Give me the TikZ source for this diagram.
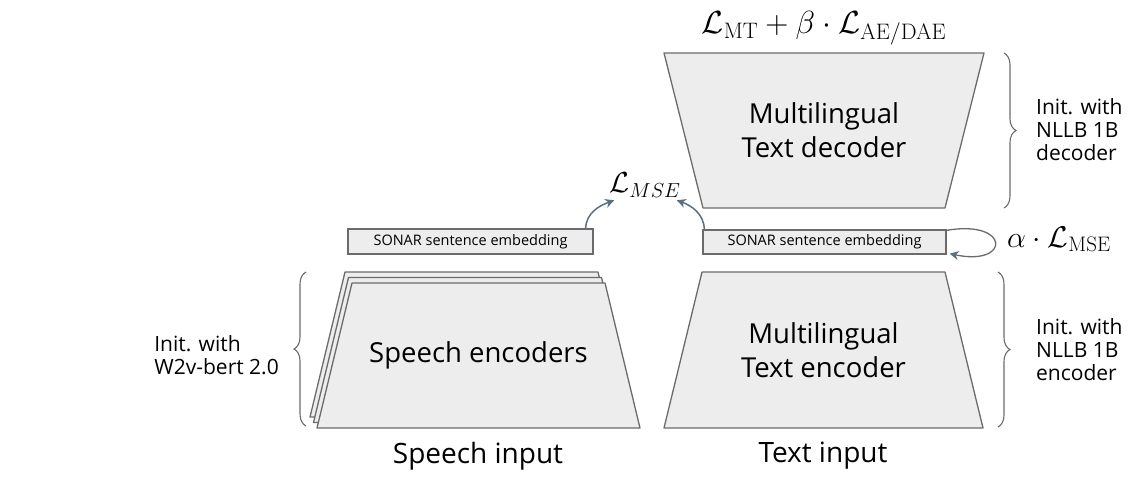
\RequirePackage{fix-cm}
\documentclass[tikz,border=0pt]{standalone}
\usepackage[no-math]{fontspec}
\usepackage{amsmath}
\usepackage{tikz}
\usetikzlibrary{arrows.meta,positioning,shapes.geometric,decorations.pathreplacing}
\newfontfamily\uifont{Open Sans}
\definecolor{sgray}{HTML}{EDEDED}
\definecolor{sedge}{HTML}{6B6B6B}
\definecolor{sslate}{HTML}{5A6F82}
% centre x, centre y, top width, bottom width, height
\newcommand{\trapblock}[5]{%
    \draw[blockline] (#1-#3/2,#2-#5/2) -- (#1+#3/2,#2-#5/2) -- (#1+#4/2,#2+#5/2) -- (#1-#4/2,#2+#5/2) -- cycle;}

\begin{document}
\begin{tikzpicture}[x=1pt, y=-1pt,
    blockline/.style={draw=sedge, fill=sgray, line width=1.3pt, line join=round},
    blocktext/.style={align=center, inner sep=0pt, font=\uifont\fontsize{27.5}{34}\selectfont},
    embbox/.style={rectangle, draw=sedge, fill=sgray, line width=1.3pt, inner sep=0pt,
        font=\uifont\fontsize{14.5}{16}\selectfont},
    initnote/.style={align=left, inner sep=0pt, font=\uifont\fontsize{21}{23}\selectfont},
    inlabel/.style={inner sep=0pt, font=\uifont\fontsize{28}{30}\selectfont},
    lossarrow/.style={draw=sslate, line width=1.5pt, -{Stealth[length=9pt,width=9pt]}},
    bracket/.style={draw=sedge, line width=1.1pt, decorate, decoration={brace, amplitude=12pt}},
]
    \useasboundingbox (0,0) rectangle (1138,482);

    % text side
    \trapblock{824}{130.5}{320}{242}{155}
    \node[blocktext] (dec) at (824,130.5) {Multilingual\\Text decoder};
    \trapblock{823.5}{350}{243}{319}{156}
    \node[blocktext] (tenc) at (823.5,350) {Multilingual\\Text encoder};
    \node[embbox, minimum width=243pt, minimum height=24pt] (temb) at (824.5,242) {SONAR sentence embedding};

    % speech side (stacked encoders)
    \foreach \dx/\dy in {-7/-11, -3.5/-5.5, 0/0} {
        \trapblock{478.5+\dx}{355.5+\dy}{253}{323}{145}
    }
    \node[blocktext] (senc) at (478.5,355.5) {Speech encoders};
    \node[embbox, minimum width=245pt, minimum height=25pt] (semb) at (470.5,241.5) {SONAR sentence embedding};

    % losses
    \node[inner sep=0pt, font=\fontsize{32}{34}\selectfont] (toploss) at (824,28)
        {$\mathcal{L}_{\mathrm{MT}} + \beta\cdot\mathcal{L}_{\mathrm{AE/DAE}}$};
    \node[inner sep=0pt, font=\fontsize{29}{30}\selectfont] (lmse) at (645,185) {$\mathcal{L}_{MSE}$};
    \node[inner sep=0pt, anchor=west, font=\fontsize{30}{32}\selectfont] (amse) at (1007,239)
        {$\alpha\cdot\mathcal{L}_{\mathrm{MSE}}$};

    \draw[lossarrow] ([xshift=-8pt]semb.north east) to[out=88,in=200] ([shift={(5pt,-3pt)}]lmse.south west);
    \draw[lossarrow] ([xshift=2pt]temb.north west) to[out=92,in=-20] ([shift={(-4pt,-3pt)}]lmse.south east);
    \draw[draw=sedge, line width=1.3pt, -{Stealth[length=9pt,width=9pt,color=sslate]}]
        ([yshift=-1pt]temb.north east) .. controls ([shift={(64pt,10pt)}]temb.north east)
        and ([shift={(64pt,-12pt)}]temb.south east) .. ([shift={(3pt,1pt)}]temb.south east);

    % init notes
    \draw[bracket] (1004,53) -- (1004,208);
    \node[initnote, anchor=west] (decnote) at (1036,130) {Init. with\\NLLB 1B\\decoder};
    \draw[bracket] (998,272) -- (998,427);
    \node[initnote, anchor=west] (encnote) at (1036,350) {Init. with\\NLLB 1B\\encoder};
    \draw[bracket] (306,426) -- (306,272);
    \node[initnote, anchor=east] (spnote) at (279,355) {Init. with\\W2v-bert 2.0};

    % inputs
    \node[inlabel] (spin) at (478,456) {Speech input};
    \node[inlabel] (txin) at (823,456) {Text input};
\end{tikzpicture}
\end{document}
